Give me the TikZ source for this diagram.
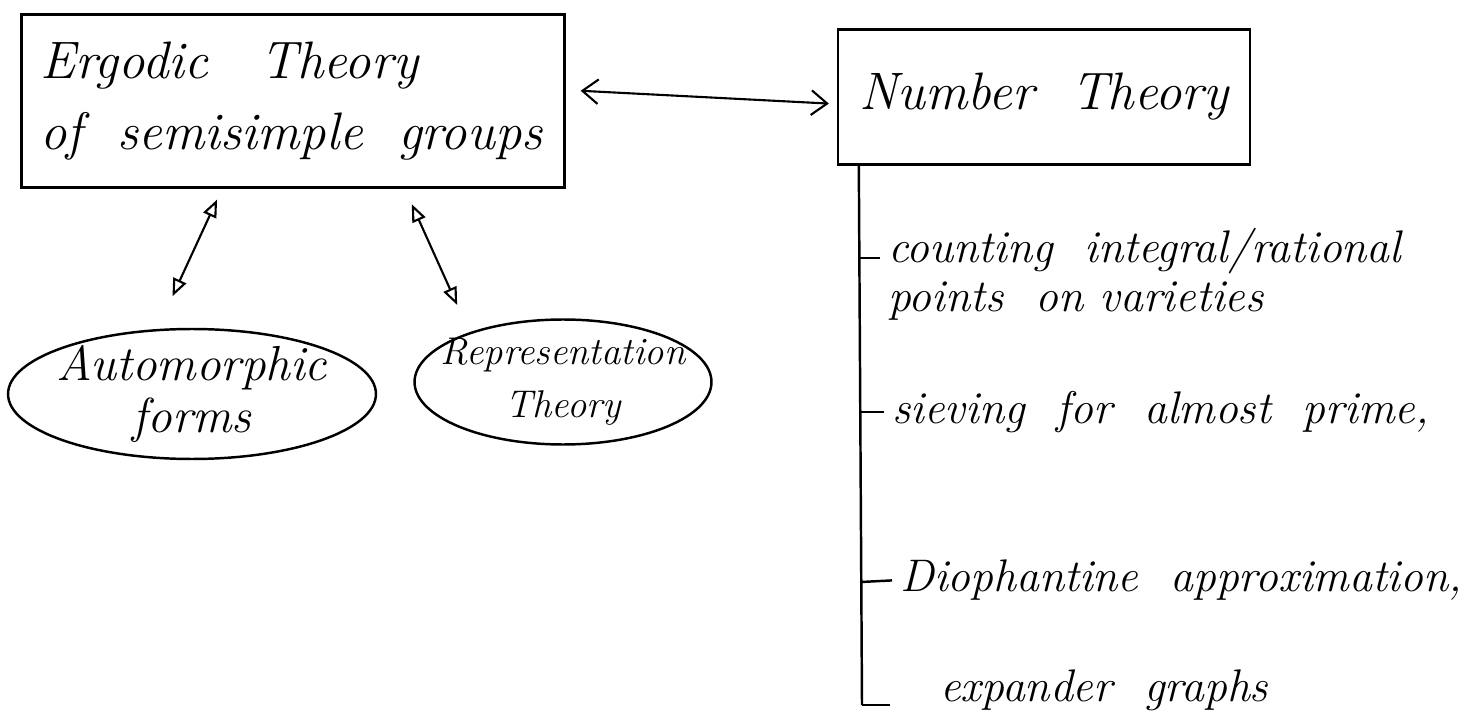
\documentclass[tikz,border=0pt]{standalone}
\usetikzlibrary{positioning,shapes.geometric,arrows.meta,calc}

\tikzset{
  hand/.style={font=\fontsize{30}{40}\selectfont\itshape},
  topic/.style={draw, line width=1.4pt, rectangle, hand, align=left, inner sep=0pt},
  field/.style={draw, line width=1.4pt, ellipse, hand, align=center,
    inner xsep=-0.5cm, inner ysep=-0.3cm},
  item/.style={hand, font=\fontsize{26}{36}\selectfont\itshape, align=left, anchor=west, inner sep=0pt},
  link/.style={line width=1.2pt, {Straight Barb[length=9pt,width=14pt]}-{Straight Barb[length=9pt,width=14pt]}},
  duo/.style={line width=1.2pt, {Triangle[open,length=10pt,width=8pt]}-{Triangle[open,length=10pt,width=8pt]}},
  tick/.style={line width=1.4pt}
}

\begin{document}
\begin{tikzpicture}[x=0.02cm, y=-0.02cm]
        \useasboundingbox (0,0) rectangle (1476,722);
        % 1. Hai khung chinh
        \node[topic, minimum width=10.86cm, minimum height=3.46cm, text width=10.1cm]
            (ergodic) at (293,101) {Ergodic\ \ \ Theory\\ of\ \ semisimple\ \ groups};
        \node[topic, minimum width=8.24cm, minimum height=2.7cm, align=center]
            (number) at (1044,97) {Number\ \ Theory};

        % 2. Mui ten hai chieu giua hai khung
        \draw[link, shorten <=0.3cm, shorten >=0.16cm]
            ([yshift=0.22cm]ergodic.east) -- ([yshift=-0.14cm]number.west);

        % 3. Hai hinh elip
        \node[field, minimum width=7.36cm, minimum height=2.6cm,
            font=\fontsize{28}{34}\selectfont\itshape] (auto) at (192,394)
            {Automorphic\\[-4pt] forms};
        \node[field, minimum width=5.94cm, minimum height=2.5cm,
            font=\fontsize{22}{32}\selectfont\itshape] (rep) at (563,382)
            {Representation\\[-2pt] Theory};

        % 4. Mui ten tu elip len khung
        \draw[duo, shorten <=0.72cm, shorten >=0.24cm]
            (auto.118) -- ($(ergodic.south west)!0.37!(ergodic.south east)$);
        \draw[duo, shorten <=0.6cm, shorten >=0.34cm]
            (rep.152) -- ($(ergodic.south west)!0.705!(ergodic.south east)$);

        % 5. Cac ung dung trong ly thuyet so
        \coordinate (stem) at ($(number.south west)+(22,0)$);
        \coordinate (end) at (862,705);
        \draw[tick] (stem) -- (end);

        \node[item, anchor=north west] (item1) at (888,228)
            {counting\ \ integral/rational\\[-8pt] points\ \ on\ varieties};
        \node[item] (item2) at (892,412) {sieving\ \ for\ \ almost\ \ prime,};
        \node[item] (item3) at (900,580) {Diophantine\ \ approximation,};
        \node[item] (item4) at (940,690) {expander\ \ graphs};

        \coordinate (k1) at (859,258);
        \coordinate (k2) at (860,412);
        \coordinate (k3) at (861,582);
        \draw[tick, shorten >=0.16cm] (k1) -- (k1 -| item1.west);
        \draw[tick, shorten >=0.16cm] (k2) -- (item2.west);
        \draw[tick, shorten >=0.16cm] (k3) -- (item3.west);
        \draw[tick, shorten >=1cm] (end) -- (end -| item4.west);

    \end{tikzpicture}
\end{document}
